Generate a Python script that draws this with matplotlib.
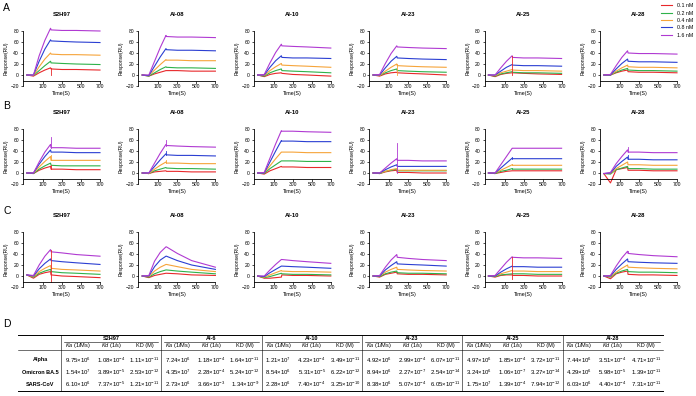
import numpy as np
import matplotlib
matplotlib.use('Agg')
import matplotlib.pyplot as plt
from matplotlib.lines import Line2D

plt.rcParams['font.family'] = ['Liberation Sans', 'DejaVu Sans']
plt.rcParams['mathtext.fontset'] = 'custom'
plt.rcParams['mathtext.rm'] = 'Liberation Sans'
plt.rcParams['mathtext.it'] = 'Liberation Sans:italic'

T = [-70, 0, 60, 120, 180, 185, 300, 450, 700]

concs = ['0.1 nM', '0.2 nM', '0.4 nM', '0.8 nM', '1.6 nM']
colors = ['#e8282b', '#2fb24a', '#f6a43a', '#2b3fd2', '#b03ad2']
antibodies = ['S2H97', 'AI-08', 'AI-10', 'AI-23', 'AI-25', 'AI-28']

# responses (RU), one row per concentration (0.1 -> 1.6 nM)
A_S2H97 = [[0, -2, 4, 9, 13, 11, 10, 10, 9],
           [0, -1, 8, 17, 25, 22, 21, 20, 19],
           [0, -1, 15, 29, 40, 38, 37, 37, 36],
           [0, 0, 25, 47, 64, 62, 61, 60, 59],
           [0, 0, 35, 63, 85, 82, 81, 81, 80]]
A_AI08 = [[0, -2, 2, 5, 8, 8, 8, 7, 7],
          [0, -2, 4, 10, 15, 14, 13, 13, 12],
          [0, -1, 9, 19, 28, 27, 27, 26, 26],
          [0, -1, 16, 33, 48, 46, 45, 45, 44],
          [0, 0, 25, 50, 72, 70, 69, 69, 68]]
A_AI10 = [[0, -3, 1, 3, 4, 3, 1, 0, -2],
          [0, -2, 4, 8, 11, 8, 7, 6, 4],
          [0, -1, 8, 15, 21, 18, 17, 16, 14],
          [0, 0, 14, 26, 35, 32, 31, 31, 30],
          [0, 1, 22, 41, 56, 53, 52, 51, 49]]
A_AI23 = [[0, -2, 2, 4, 5, 4, 3, 2, 0],
          [0, -1, 4, 8, 11, 8, 7, 6, 5],
          [0, -1, 7, 14, 20, 17, 16, 15, 14],
          [0, 0, 13, 25, 34, 31, 30, 29, 28],
          [0, 1, 21, 39, 53, 51, 50, 49, 48]]
A_AI25 = [[0, -3, 1, 3, 4, 4, 3, 2, 1],
          [0, -2, 2, 4, 6, 5, 4, 4, 3],
          [0, -1, 4, 7, 10, 9, 8, 8, 7],
          [0, 0, 7, 14, 19, 18, 17, 17, 16],
          [0, 0, 13, 25, 35, 32, 31, 31, 30]]
A_AI28 = [[0, 0, 4, 7, 9, 6, 5, 5, 4],
          [0, 0, 5, 9, 12, 9, 8, 8, 7],
          [0, 0, 7, 13, 18, 15, 14, 14, 13],
          [0, 0, 11, 21, 29, 25, 24, 24, 23],
          [0, 1, 17, 32, 44, 40, 39, 39, 38]]

B_S2H97 = [[0, -1, 5, 9, 12, 7, 7, 6, 6],
           [0, -1, 7, 13, 18, 14, 13, 13, 13],
           [0, 0, 11, 21, 30, 23, 23, 23, 23],
           [0, 0, 16, 30, 42, 38, 38, 37, 37],
           [0, 0, 20, 38, 52, 46, 46, 45, 45]]
B_AI08 = [[0, -1, 2, 3, 4, 3, 3, 2, 2],
          [0, -1, 4, 7, 10, 9, 8, 8, 7],
          [0, -1, 7, 14, 20, 18, 18, 17, 17],
          [0, 0, 12, 24, 35, 33, 32, 32, 31],
          [0, 0, 18, 36, 52, 50, 49, 48, 47]]
B_AI10 = [[0, -2, 4, 8, 12, 11, 11, 10, 10],
          [0, -1, 8, 15, 22, 22, 22, 21, 21],
          [0, 0, 13, 26, 38, 38, 38, 37, 37],
          [0, 0, 20, 40, 59, 58, 58, 57, 57],
          [0, 1, 27, 53, 77, 76, 76, 75, 74]]
B_AI23 = [[0, -1, 2, 4, 5, 1, 1, 0, 0],
          [0, -1, 3, 5, 7, 4, 4, 4, 4],
          [0, 0, 3, 6, 8, 5, 5, 5, 5],
          [0, 0, 6, 11, 15, 12, 12, 12, 12],
          [0, 0, 9, 18, 26, 23, 23, 22, 22]]
B_AI25 = [[0, -1, 1, 3, 4, 4, 4, 4, 4],
          [0, -1, 3, 5, 8, 7, 7, 7, 7],
          [0, 0, 5, 10, 15, 14, 14, 14, 14],
          [0, 0, 9, 18, 27, 26, 26, 26, 26],
          [0, 0, 15, 30, 45, 45, 45, 45, 45]]
B_AI28 = [[-1, -18, 6, 8, 10, 5, 5, 4, 4],
          [-1, -2, 6, 9, 12, 8, 8, 7, 7],
          [-1, -1, 8, 14, 20, 15, 15, 14, 14],
          [-1, 0, 12, 21, 29, 25, 25, 24, 24],
          [-1, 1, 17, 30, 42, 38, 38, 37, 37]]

C_S2H97 = [[2, -4, 3, 6, 8, 2, 0, -1, -3],
           [2, -2, 5, 9, 12, 8, 6, 5, 3],
           [2, -1, 8, 14, 19, 14, 12, 11, 9],
           [2, 0, 13, 23, 31, 28, 26, 24, 21],
           [2, 1, 20, 36, 48, 44, 42, 39, 36]]
C_AI08 = [[0, -3, 1, 3, 5, 5, 4, 2, 1],
          [0, -2, 4, 8, 11, 11, 9, 7, 4],
          [0, -1, 9, 16, 21, 21, 17, 12, 8],
          [0, 0, 17, 29, 36, 36, 28, 20, 12],
          [0, 1, 27, 43, 53, 53, 41, 28, 16]]
C_AI10 = [[0, -4, -4, -3, -2, 2, 1, 1, 0],
          [0, -3, -1, 2, 5, 4, 3, 3, 2],
          [0, -2, 2, 6, 10, 9, 8, 8, 7],
          [0, -1, 6, 12, 18, 18, 17, 16, 14],
          [0, 0, 11, 21, 30, 30, 28, 26, 23]]
C_AI23 = [[0, -2, 3, 5, 7, 4, 3, 3, 2],
          [0, -1, 4, 7, 9, 6, 5, 5, 4],
          [0, 0, 7, 12, 16, 12, 11, 10, 9],
          [0, 0, 11, 19, 26, 22, 21, 20, 18],
          [0, 1, 16, 29, 39, 34, 32, 30, 28]]
C_AI25 = [[0, -2, 1, 2, 2, 1, 1, 0, 0],
          [0, -1, 2, 3, 4, 4, 4, 3, 3],
          [0, 0, 4, 7, 10, 9, 9, 8, 8],
          [0, 0, 7, 13, 18, 17, 17, 16, 16],
          [0, 1, 13, 25, 35, 34, 33, 33, 32]]
C_AI28 = [[0, -5, 4, 7, 9, 3, 2, 2, 1],
          [0, -2, 5, 9, 12, 8, 7, 7, 6],
          [0, -1, 7, 14, 20, 16, 15, 14, 13],
          [0, 0, 12, 22, 31, 26, 25, 24, 23],
          [0, 1, 18, 33, 45, 41, 39, 37, 35]]

# injection-switch spikes at t=180: (row, col, conc index, low, high)
spikes = [(0, 0, 0, 0, 13), (0, 3, 2, 0, 20), (0, 4, 0, 0, 35),
          (1, 0, 4, 46, 65), (1, 0, 2, 23, 33), (1, 0, 0, 7, 14),
          (1, 1, 4, 50, 60), (1, 1, 3, 33, 40), (1, 1, 2, 18, 23),
          (1, 3, 4, 0, 55), (1, 4, 3, 26, 30), (1, 4, 2, 14, 17),
          (1, 4, 1, 7, 10), (1, 5, 4, 38, 47), (1, 5, 3, 25, 33),
          (2, 0, 0, -10, 48), (2, 4, 0, -5, 35), (2, 5, 4, 41, 45)]

panels = [[A_S2H97, A_AI08, A_AI10, A_AI23, A_AI25, A_AI28],
          [B_S2H97, B_AI08, B_AI10, B_AI23, B_AI25, B_AI28],
          [C_S2H97, C_AI08, C_AI10, C_AI23, C_AI25, C_AI28]]

# kinetics table
variants = ['Alpha', 'Omicron BA.5', 'SARS-CoV']
table_groups = ['S2H97', 'AI-6', 'AI-10', 'AI-23', 'AI-25', 'AI-28']
ka = [[(9.75, 6), (7.24, 6), (1.21, 7), (4.92, 6), (4.97, 6), (7.44, 6)],
      [(1.54, 7), (4.35, 7), (8.54, 6), (8.94, 6), (3.24, 6), (4.29, 6)],
      [(6.10, 6), (2.73, 6), (2.28, 6), (8.38, 6), (1.75, 7), (6.03, 6)]]
kd = [[(1.08, -4), (1.18, -4), (4.23, -4), (2.99, -4), (1.85, -4), (3.51, -4)],
      [(3.89, -5), (2.28, -4), (5.31, -5), (2.27, -7), (1.06, -7), (5.98, -5)],
      [(7.37, -5), (3.66, -3), (7.40, -4), (5.07, -4), (1.39, -4), (4.40, -4)]]
KD = [[(1.11, -11), (1.64, -11), (3.49, -11), (6.07, -11), (3.72, -11), (4.71, -11)],
      [(2.53, -12), (5.24, -12), (6.22, -12), (2.54, -14), (3.27, -14), (1.39, -11)],
      [(1.21, -11), (1.34, -9), (3.25, -10), (6.05, -11), (7.94, -12), (7.31, -11)]]

W, H = 696, 396
fig = plt.figure(figsize=(W / 100, H / 100), dpi=100)


def px_axes(left, top, width, height):
    return fig.add_axes([left / W, 1 - (top + height) / H, width / W, height / H])


row_tops = [31, 129, 232]
row_h = 55
for r in range(3):
    for c in range(6):
        left = 23 + 115.4 * c
        ax = px_axes(left, row_tops[r], 77, row_h)
        for k in range(5):
            ax.plot(T, panels[r][c][k], color=colors[k], lw=0.8, clip_on=False)
        for (sr, sc, k, lo, hi) in spikes:
            if sr == r and sc == c:
                ax.plot([180, 180], [lo, hi], color=colors[k], lw=0.6,
                        clip_on=False)
        ax.set_xlim(-110, 700)
        ax.set_ylim(-20, 80)
        ax.set_xticks([100, 300, 500, 700])
        ax.set_yticks([-20, 0, 20, 40, 60, 80])
        for s in ['top', 'right']:
            ax.spines[s].set_visible(False)
        ax.spines['bottom'].set_position(('data', -10))
        ax.spines['left'].set_linewidth(0.6)
        ax.spines['bottom'].set_linewidth(0.6)
        ax.tick_params(labelsize=3.6, length=1.8, width=0.5, pad=1)
        ax.set_ylabel('Response(RU)', fontsize=3.6, labelpad=1.5)
        ax.set_xlabel('Time(S)', fontsize=3.8, labelpad=1)
        ax.set_title(antibodies[c], fontsize=4.2, fontweight='bold', pad=11)
        ax.patch.set_visible(False)

# legend
handles = [Line2D([0], [0], color=colors[k], lw=0.8) for k in range(5)]
fig.legend(handles, concs, loc='upper right', bbox_to_anchor=(1.0, 1.0),
           fontsize=3.8, frameon=False, handlelength=2.2, labelspacing=0.45,
           handletextpad=0.8, borderaxespad=0.2)

# panel letters and table on a pixel-coordinate overlay
ov = fig.add_axes([0, 0, 1, 1])
ov.set_xlim(0, W)
ov.set_ylim(H, 0)
ov.axis('off')
ov.patch.set_visible(False)
for lab, y in zip('ABCD', [8, 106, 211, 324]):
    ov.text(3, y, lab, fontsize=7.5, ha='left', va='center')

x_left, x_right = 18, 663
seps = [61 + 100.3 * g for g in range(7)]
y_top, y_grp, y_sub, y_bot = 335, 342, 350, 391
lw_t = 0.7
ov.plot([x_left, x_right], [y_top, y_top], color='black', lw=lw_t)
ov.plot([x_left, x_right], [y_sub, y_sub], color='black', lw=0.4)
ov.plot([x_left, x_right], [y_bot, y_bot], color='black', lw=lw_t)
for g in range(6):
    ov.plot([seps[g] + 3, seps[g + 1] - 3], [y_grp, y_grp], color='black', lw=0.4)
for s in seps[:-1]:
    ov.plot([s, s], [y_top, y_bot], color='black', lw=0.4)

fs = 4.0
sub_labels = [r'$Ka$ (1/Ms)', r'$Kd$ (1/s)', 'KD (M)']
for g in range(6):
    cx = (seps[g] + seps[g + 1]) / 2
    ov.text(cx, 338.5, table_groups[g], fontsize=fs, fontweight='bold',
            ha='center', va='center')
    for j in range(3):
        x = seps[g] + 100.3 * (j + 0.5) / 3
        ov.text(x, 346, sub_labels[j], fontsize=fs, ha='center', va='center')

row_y = [360, 372.5, 384.5]
for i in range(3):
    ov.text(40, row_y[i], variants[i], fontsize=fs, fontweight='bold',
            ha='center', va='center')
    for g in range(6):
        for j, vals in enumerate([ka, kd, KD]):
            m, e = vals[i][g]
            x = seps[g] + 100.3 * (j + 0.5) / 3
            ov.text(x, row_y[i], r'$%.2f{\times}10^{%d}$' % (m, e),
                    fontsize=fs + 0.3, ha='center', va='center')

fig.savefig('out.png', dpi=100)
